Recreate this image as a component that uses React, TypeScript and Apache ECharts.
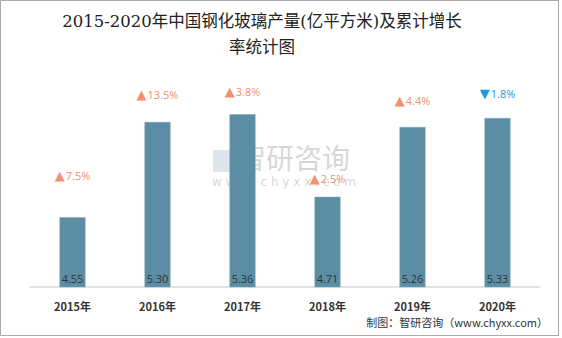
import React, { useEffect, useRef } from "react";
import * as echarts from "echarts";

const years = ["2015年", "2016年", "2017年", "2018年", "2019年", "2020年"];
const output = [4.55, 5.3, 5.36, 4.71, 5.26, 5.33];
const growth = [7.5, 13.5, 3.8, 2.5, 4.4, -1.8];
const labelGap = [35, 21, 16, 12, 20, 18];

export default function App() {
  const ref = useRef<HTMLDivElement>(null);
  useEffect(() => {
    document.body.style.margin = "0";
    const chart = echarts.init(ref.current!, null, { renderer: "svg" });
    const data = output.map((v, i) => {
      const up = growth[i] >= 0;
      const color = up ? "#F2906F" : "#1D9BD7";
      return {
        value: v,
        label: {
          show: true,
          position: "top",
          distance: labelGap[i],
          formatter: "{t|" + (up ? "▲" : "▼") + "}{v|" + Math.abs(growth[i]).toFixed(1) + "%}",
          rich: {
            t: { color, fontSize: 13, fontFamily: "DejaVu Sans", padding: [0, 1, 0, 0] },
            v: { color, fontSize: 11, fontFamily: "Open Sans, sans-serif" },
          },
        },
      };
    });
    chart.setOption({
      animation: false,
      graphic: [
        {
          type: "rect",
          shape: { x: 0.5, y: 0.5, width: 558, height: 335 },
          style: { fill: "none", stroke: "#AAAAAA", lineWidth: 1 },
          silent: true,
        },
        {
          type: "text",
          x: 262,
          y: 8,
          style: {
            text: "2015-2020年中国钢化玻璃产量(亿平方米)及累计增长\n率统计图",
            align: "center",
            fontSize: 16.5,
            lineHeight: 26,
            fill: "#222",
            fontFamily: "DejaVu Serif, Noto Sans CJK SC, serif",
          },
        },
        {
          type: "text",
          left: 238,
          top: 143,
          z: 0,
          style: { text: "智研咨询", fontSize: 28, fill: "rgba(150,150,150,0.4)", fontFamily: "Noto Sans CJK SC" },
        },
        {
          type: "text",
          left: 212,
          top: 176,
          z: 0,
          style: { text: "w w w . c h y x x . c o m", fontSize: 12, fill: "rgba(150,150,150,0.4)", fontFamily: "DejaVu Sans" },
        },
        {
          type: "rect",
          shape: { x: 213, y: 150, width: 20, height: 22 },
          style: { fill: "rgba(150,170,190,0.3)" },
          silent: true,
        },
        {
          type: "text",
          right: 14,
          top: 316,
          style: {
            text: "制图：智研咨询（www.chyxx.com）",
            fontSize: 11,
            fill: "#333",
            fontFamily: "Noto Sans CJK SC",
          },
        },
      ],
      grid: { left: 30, right: 22, top: 33, bottom: 51, containLabel: false },
      xAxis: {
        type: "category",
        data: years,
        axisLine: { lineStyle: { color: "#D9D9D9", width: 1.5 } },
        axisTick: { show: false },
        axisLabel: {
          color: "#333",
          fontWeight: "bold",
          fontSize: 11,
          margin: 13,
          fontFamily: "Noto Sans CJK SC",
        },
      },
      yAxis: {
        type: "value",
        min: 4,
        max: 6,
        show: false,
        splitLine: { show: false },
      },
      series: [
        {
          type: "bar",
          data,
          barWidth: 26,
          itemStyle: { color: "#5B8EA4", borderColor: "#7FA9BC", borderWidth: 0.5 },
          z: 2,
        },
        {
          type: "bar",
          data: output,
          barWidth: 26,
          barGap: "-100%",
          itemStyle: { color: "transparent" },
          label: {
            show: true,
            position: "insideBottom",
            distance: 3,
            color: "#333",
            fontSize: 11,
            fontFamily: "Open Sans, sans-serif",
            formatter: (p: any) => p.value.toFixed(2),
          },
          z: 3,
        },
      ],
    });
    return () => chart.dispose();
  }, []);
  return <div ref={ref} style={{ width: 562, height: 338 }} />;
}
